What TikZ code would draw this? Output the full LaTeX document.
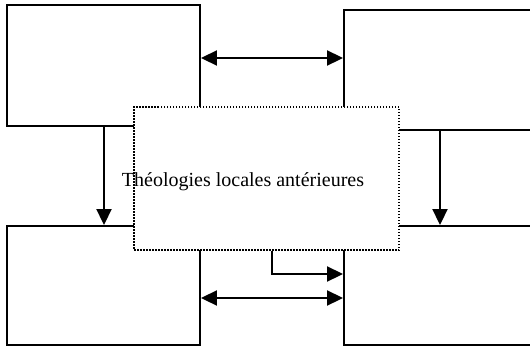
\documentclass[tikz,border=0pt]{standalone}
\usepackage{fontspec}
\setmainfont{Liberation Serif}
\usetikzlibrary{arrows.meta,positioning}
\tikzset{
  frame/.style={draw,rectangle,line width=1.9pt,fill=white,inner sep=0pt},
  theme/.style={
    draw,rectangle,fill=white,inner sep=0pt,
    line width=1.5pt,dash pattern=on 1.5pt off 1.5pt
  },
  link/.style={->,>={Triangle[length=16pt,width=15pt]},line width=1.9pt},
  both/.style={link,<->}
}
\begin{document}
\begin{tikzpicture}[x=1pt,y=-1pt]
  \clip (0,0) rectangle (530,346);
  \node[frame,minimum width=193pt,minimum height=121pt] (TL) at (103.5,65.5) {};
  \node[frame,minimum width=196pt,minimum height=120pt] (TR) at (442,70) {};
  \node[frame,minimum width=193pt,minimum height=119pt] (BL) at (103.5,285.5) {};
  \node[frame,minimum width=196pt,minimum height=119pt] (BR) at (442,285.5) {};
  \node[theme,minimum width=265pt,minimum height=143pt,
    label={[xshift=-23.5pt,yshift=-3.5pt,font=\fontsize{20}{24}\selectfont]center:Théologies locales antérieures}]
    (theo) at (266.5,178.5) {};
  % links
  \draw[both] (TL.east |- 0,58) -- (TR.west |- 0,58);
  \draw[both] (BL.east |- 0,298) -- (BR.west |- 0,298);
  \draw[link] (TL.south -| 104,0) -- (BL.north -| 104,0);
  \draw[link] (TR.south -| 440,0) -- (BR.north -| 440,0);
  \draw[link] (theo.south -| 272,0) |- (BR.west |- 0,274);
\end{tikzpicture}
\end{document}
